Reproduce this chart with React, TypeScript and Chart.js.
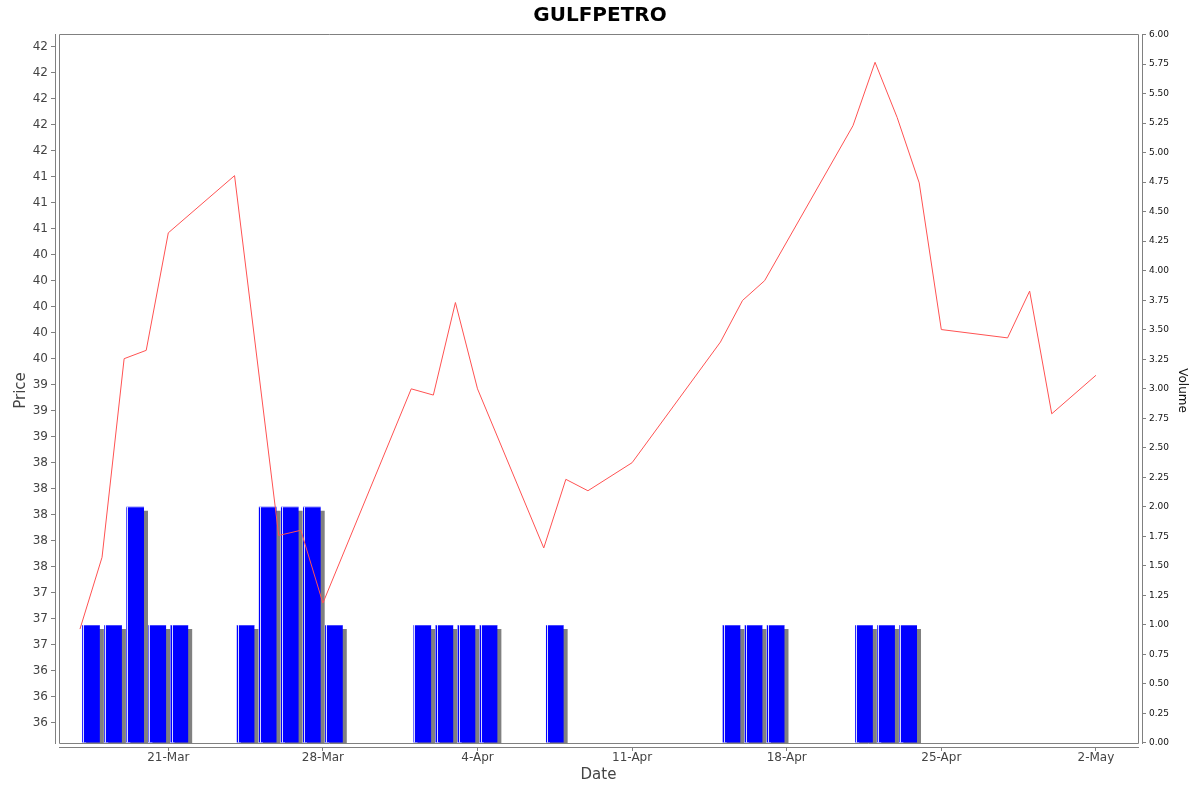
import React, { useEffect, useRef } from 'react';
import { Chart, registerables } from 'chart.js';

Chart.register(...registerables);

// ---------- data ----------
const TITLE = 'GULFPETRO';

const PRICE_DATES = [
  '2024-03-17', '2024-03-18', '2024-03-19', '2024-03-20', '2024-03-21',
  '2024-03-24', '2024-03-26', '2024-03-27', '2024-03-28',
  '2024-04-01', '2024-04-02', '2024-04-03', '2024-04-04',
  '2024-04-07', '2024-04-08', '2024-04-09', '2024-04-11',
  '2024-04-15', '2024-04-16', '2024-04-17',
  '2024-04-21', '2024-04-22', '2024-04-23', '2024-04-24', '2024-04-25',
  '2024-04-28', '2024-04-29', '2024-04-30', '2024-05-02',
];
const PRICES = [
  36.90, 37.59, 39.50, 39.58, 40.71,
  41.26, 37.80, 37.85, 37.15,
  39.21, 39.15, 40.04, 39.21,
  37.68, 38.34, 38.23, 38.50,
  39.66, 40.06, 40.25,
  41.74, 42.35, 41.82, 41.19, 39.78,
  39.70, 40.15, 38.97, 39.34,
];

const VOLUME_DATES = [
  '2024-03-17', '2024-03-18', '2024-03-19', '2024-03-20', '2024-03-21',
  '2024-03-24', '2024-03-25', '2024-03-26', '2024-03-27', '2024-03-28',
  '2024-04-01', '2024-04-02', '2024-04-03', '2024-04-04', '2024-04-07',
  '2024-04-15', '2024-04-16', '2024-04-17',
  '2024-04-21', '2024-04-22', '2024-04-23',
];
const VOLUMES = [
  1, 1, 2, 1, 1,
  1, 2, 2, 2, 1,
  1, 1, 1, 1, 1,
  1, 1, 1,
  1, 1, 1,
];

const X_TICK_DATES = [
  '2024-03-21', '2024-03-28', '2024-04-04', '2024-04-11',
  '2024-04-18', '2024-04-25', '2024-05-02',
];
const MONTHS = ['Jan', 'Feb', 'Mar', 'Apr', 'May', 'Jun', 'Jul', 'Aug', 'Sep', 'Oct', 'Nov', 'Dec'];

const PRICE_TICK_START = 36;
const PRICE_TICK_END = 42.5;
const PRICE_TICK_STEP = 0.25;
const VOLUME_TICK_START = 0;
const VOLUME_TICK_END = 6;
const VOLUME_TICK_STEP = 0.25;

// axis ranges
const X_RANGE_START = '2024-03-16';
const X_RANGE_START_SHIFT = -0.13;
const X_RANGE_END = '2024-05-04';
const X_RANGE_END_SHIFT = 0.087;
const PRICE_MIN = 35.766;
const PRICE_MAX = 42.622;
const VOLUME_MIN = -0.0339;
const VOLUME_MAX = 6.0042;

// ---------- helpers ----------
const FONT = 'DejaVu Sans';
const DAY_MS = 86400000;
const dayNum = (s: string) => {
  const [y, m, d] = s.split('-').map(Number);
  return Date.UTC(y, m - 1, d) / DAY_MS;
};
const fmtDay = (v: number) => {
  const dt = new Date(Math.round(v) * DAY_MS);
  return `${dt.getUTCDate()}-${MONTHS[dt.getUTCMonth()]}`;
};
const roundHalfEven = (v: number) => {
  const f = Math.floor(v);
  const diff = v - f;
  if (Math.abs(diff - 0.5) < 1e-9) return f % 2 === 0 ? f : f + 1;
  return Math.round(v);
};
const stepTicks = (a: number, b: number, s: number) => {
  const out: { value: number }[] = [];
  const n = Math.round((b - a) / s);
  for (let i = 0; i <= n; i++) out.push({ value: +(a + i * s).toFixed(6) });
  return out;
};

const AXIS_GAP = 4;
const FRAME_COLOR = '#808080';

const framePlugin = {
  id: 'frame',
  afterDraw(chart: any) {
    const { ctx, chartArea: ca } = chart;
    const L = ca.left + AXIS_GAP;
    const R = ca.right - AXIS_GAP;
    const T = ca.top;
    const B = ca.bottom - AXIS_GAP;
    ctx.save();
    ctx.strokeStyle = FRAME_COLOR;
    ctx.lineWidth = 1;
    ctx.beginPath();
    // plot outline
    ctx.rect(L + 0.5, T + 0.5, R - L, B - T);
    // left axis line
    ctx.moveTo(ca.left + 0.5, T);
    ctx.lineTo(ca.left + 0.5, B + 1);
    // right axis line
    ctx.moveTo(ca.right + 0.5, T);
    ctx.lineTo(ca.right + 0.5, B + 1);
    // bottom axis line
    ctx.moveTo(L, ca.bottom + 0.5);
    ctx.lineTo(R + 1, ca.bottom + 0.5);
    ctx.stroke();
    ctx.restore();
  },
};

const barShadowPlugin = {
  id: 'barShadow',
  beforeDatasetDraw(chart: any, args: any) {
    if (args.meta.type !== 'bar') return;
    const ctx = chart.ctx;
    const dpr = chart.currentDevicePixelRatio || 1;
    ctx.save();
    ctx.shadowColor = 'rgb(128,128,128)';
    ctx.shadowOffsetX = 4 * dpr;
    ctx.shadowOffsetY = 4 * dpr;
    ctx.shadowBlur = 0;
  },
  afterDatasetDraw(chart: any, args: any) {
    if (args.meta.type !== 'bar') return;
    const ctx = chart.ctx;
    ctx.restore();
    ctx.save();
    for (const el of args.meta.data) {
      const { x, y, base, width } = el.getProps(['x', 'y', 'base', 'width'], true);
      const left = x - width / 2;
      const top = Math.min(y, base);
      const h = Math.abs(base - y);
      if (h <= 0) continue;
      ctx.fillStyle = 'rgba(255,255,255,0.85)';
      ctx.fillRect(Math.round(left) + 1, top, 1, h);
      ctx.fillStyle = 'rgba(255,255,255,0.3)';
      ctx.fillRect(left, top, width, 1);
    }
    ctx.restore();
  },
};

export default function App() {
  const ref = useRef<HTMLCanvasElement>(null);

  useEffect(() => {
    document.body.style.margin = '0';
    const canvas = ref.current;
    if (!canvas) return;

    const priceData = PRICE_DATES.map((d, i) => ({ x: dayNum(d), y: PRICES[i] }));
    const volumeData = VOLUME_DATES.map((d, i) => ({ x: dayNum(d) + 0.5, y: VOLUMES[i] }));
    const clip = { left: -AXIS_GAP, right: -AXIS_GAP, top: 0, bottom: -AXIS_GAP };

    const chart = new Chart(canvas, {
      type: 'bar',
      data: {
        datasets: [
          {
            type: 'line',
            label: 'Price',
            data: priceData,
            xAxisID: 'x',
            yAxisID: 'yPrice',
            borderColor: '#ff5252',
            borderWidth: 1,
            pointRadius: 0,
            pointHoverRadius: 0,
            tension: 0,
            fill: false,
            order: 0,
            clip,
          } as any,
          {
            type: 'bar',
            label: 'Volume',
            data: volumeData,
            xAxisID: 'x',
            yAxisID: 'yVol',
            backgroundColor: '#0000ff',
            borderWidth: 0,
            barPercentage: 0.8,
            categoryPercentage: 1,
            order: 1,
            clip,
          } as any,
        ],
      },
      options: {
        animation: false,
        responsive: false,
        events: [],
        layout: { padding: 0 },
        plugins: {
          legend: { display: false },
          tooltip: { enabled: false },
          title: {
            display: true,
            text: TITLE,
            color: '#000',
            font: { family: FONT, size: 20, weight: 'bold' },
            padding: { top: 3.4, bottom: 6.6 },
          },
        },
        scales: {
          x: {
            type: 'linear',
            position: 'bottom',
            offset: false,
            bounds: 'data',
            min: dayNum(X_RANGE_START) + X_RANGE_START_SHIFT,
            max: dayNum(X_RANGE_END) + X_RANGE_END_SHIFT,
            afterBuildTicks: (s: any) => {
              s.ticks = X_TICK_DATES.map((d) => ({ value: dayNum(d) }));
            },
            afterFit: (s: any) => {
              s.height = 45;
            },
            grid: {
              display: true,
              offset: false,
              drawOnChartArea: false,
              drawTicks: true,
              tickLength: 4,
              color: FRAME_COLOR,
            },
            border: { display: false },
            ticks: {
              autoSkip: false,
              maxRotation: 0,
              padding: 0,
              color: '#444',
              font: { family: FONT, size: 12 },
              callback: (v: any) => fmtDay(Number(v)),
            },
            title: {
              display: true,
              text: 'Date',
              color: '#444',
              font: { family: FONT, size: 15 },
              padding: { top: 0, bottom: 8 },
            },
          },
          yPrice: {
            type: 'linear',
            position: 'left',
            bounds: 'data',
            min: PRICE_MIN,
            max: PRICE_MAX,
            afterBuildTicks: (s: any) => {
              s.ticks = stepTicks(PRICE_TICK_START, PRICE_TICK_END, PRICE_TICK_STEP);
            },
            afterFit: (s: any) => {
              s.width = 55;
            },
            grid: {
              display: true,
              drawOnChartArea: false,
              drawTicks: true,
              tickLength: 4,
              color: FRAME_COLOR,
            },
            border: { display: false },
            ticks: {
              autoSkip: false,
              padding: 3,
              color: '#444',
              font: { family: FONT, size: 12 },
              callback: (v: any) => String(roundHalfEven(Number(v))),
            },
            title: {
              display: true,
              text: 'Price',
              color: '#444',
              font: { family: FONT, size: 15 },
              padding: { top: 12, bottom: 0 },
            },
          },
          yVol: {
            type: 'linear',
            position: 'right',
            bounds: 'data',
            min: VOLUME_MIN,
            max: VOLUME_MAX,
            afterBuildTicks: (s: any) => {
              s.ticks = stepTicks(VOLUME_TICK_START, VOLUME_TICK_END, VOLUME_TICK_STEP);
            },
            afterFit: (s: any) => {
              s.width = 58;
            },
            grid: {
              display: true,
              drawOnChartArea: false,
              drawTicks: true,
              tickLength: 4,
              color: FRAME_COLOR,
            },
            border: { display: false },
            ticks: {
              autoSkip: false,
              padding: 3,
              color: '#111',
              font: { family: FONT, size: 9 },
              callback: (v: any) => Number(v).toFixed(2),
            },
            title: {
              display: true,
              text: 'Volume',
              color: '#111',
              font: { family: FONT, size: 12 },
              padding: { top: 10.8, bottom: 0 },
            },
          },
        },
      } as any,
      plugins: [barShadowPlugin, framePlugin],
    });

    return () => chart.destroy();
  }, []);

  return (
    <div style={{ position: 'absolute', left: 0, top: 0, width: 1200, height: 792, background: '#fff' }}>
      <canvas ref={ref} width={1200} height={792} style={{ display: 'block', width: 1200, height: 792 }} />
    </div>
  );
}
